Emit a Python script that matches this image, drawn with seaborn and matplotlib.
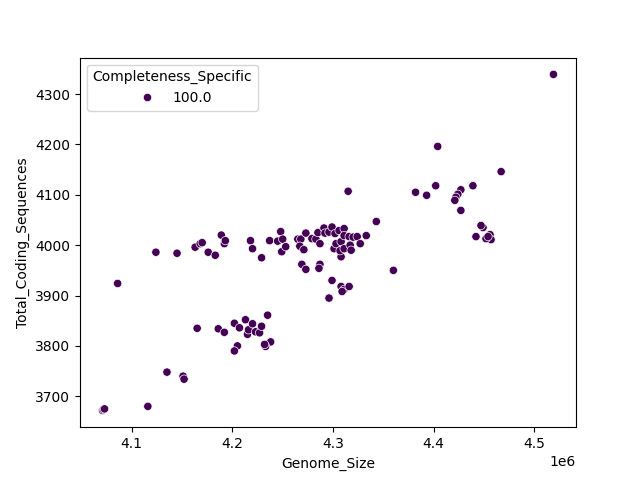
import numpy as np
import pandas as pd
import matplotlib
matplotlib.use("Agg")
import matplotlib.pyplot as plt
import seaborn as sns

# Genome size (bp)
genome_size = [
    4071000, 4072000, 4073000, 4116000, 4135000, 4151000, 4152000, 4165000,
    4086000, 4124000, 4145000, 4163000, 4168000, 4170000, 4176000, 4183000,
    4189000, 4192000, 4193000, 4218000, 4220000, 4229000, 4237000,
    4186000, 4192000, 4202000, 4207000, 4213000, 4215000, 4216000, 4220000,
    4223000, 4227000, 4229000, 4235000, 4205000, 4202000, 4238000, 4233000,
    4232000,
    4315000, 4343000, 4245000, 4248000, 4250000, 4249000, 4253000, 4265000,
    4268000, 4267000, 4271000, 4273000, 4269000, 4273000, 4279000, 4283000,
    4285000, 4287000, 4287000, 4286000, 4291000, 4292000, 4296000, 4299000,
    4302000, 4301000, 4303000, 4306000, 4308000, 4311000, 4311000, 4308000,
    4307000, 4311000, 4316000, 4317000, 4318000, 4320000, 4324000, 4327000,
    4333000, 4299000, 4296000, 4308000, 4311000, 4316000, 4309000, 4360000,
    4404000, 4467000, 4382000, 4393000, 4402000, 4439000, 4427000, 4424000,
    4422000, 4421000, 4427000, 4449000, 4447000, 4442000, 4456000, 4457000,
    4452000, 4454000, 4519000,
]

# Total coding sequences
total_cds = [
    3672, 3674, 3675, 3680, 3748, 3740, 3734, 3835,
    3924, 3986, 3984, 3996, 4003, 4005, 3986, 3980,
    4020, 4003, 4009, 4009, 3993, 3975, 4009,
    3834, 3827, 3845, 3836, 3852, 3823, 3832, 3844,
    3828, 3826, 3839, 3861, 3800, 3790, 3808, 3799,
    3803,
    4107, 4047, 4008, 4027, 4012, 3987, 3997, 4012,
    4012, 3998, 3991, 4024, 3962, 3952, 4013, 4012,
    4025, 4003, 3962, 3954, 4034, 4024, 4026, 4036,
    4023, 3993, 4003, 4029, 4007, 4033, 4019, 3977,
    3989, 3993, 4017, 4000, 3990, 4016, 4017, 4003,
    4019, 3930, 3895, 3918, 3912, 3918, 3908, 3950,
    4196, 4146, 4105, 4099, 4118, 4118, 4110, 4101,
    4095, 4089, 4069, 4035, 4039, 4017, 4021, 4011,
    4013, 4017, 4339,
]

completeness = [100.0] * len(genome_size)

df = pd.DataFrame({
    "Genome_Size": genome_size,
    "Total_Coding_Sequences": total_cds,
    "Completeness_Specific": completeness,
})

fig, ax = plt.subplots(figsize=(6.4, 4.8), dpi=100)
sns.scatterplot(data=df, x="Genome_Size", y="Total_Coding_Sequences",
                hue="Completeness_Specific", palette="viridis", ax=ax)
ax.legend(title="Completeness_Specific", loc="upper left")

plt.savefig("out.png")
